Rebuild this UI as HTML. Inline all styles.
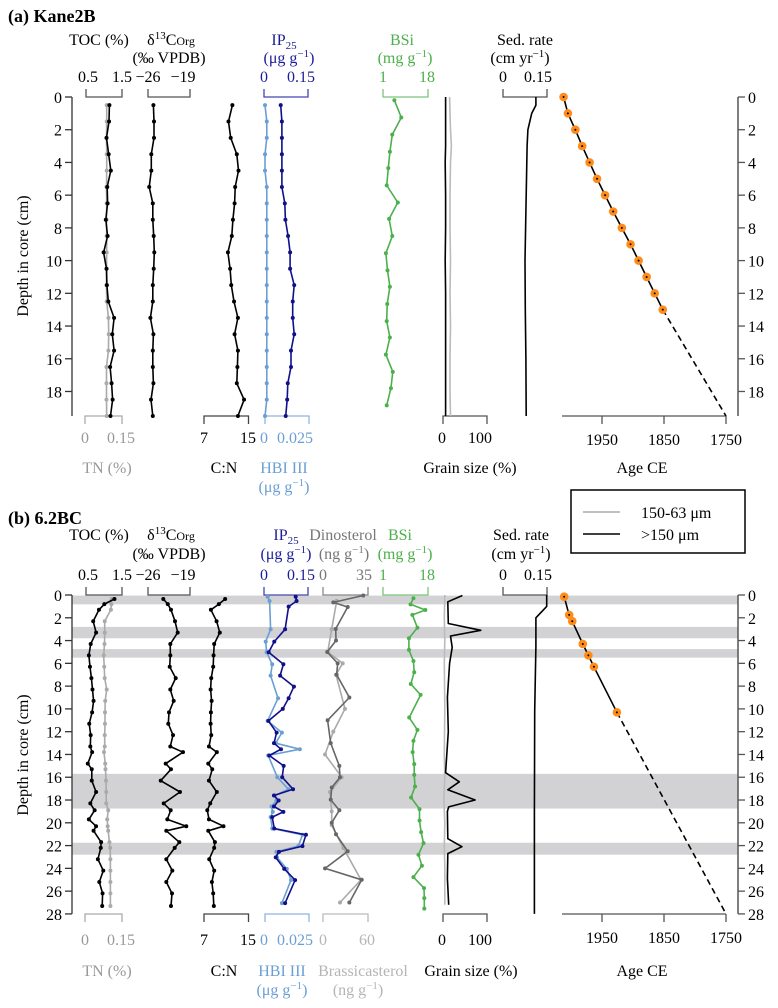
<!DOCTYPE html>
<html><head><meta charset="utf-8"><style>
html,body{margin:0;padding:0;background:#fff}
svg{display:block;font-family:"Liberation Serif",serif}
</style></head><body>
<svg id="fig" width="778" height="1008" viewBox="0 0 778 1008">
<g id="bands"></g>
<g id="axes"></g>
<g id="marks"></g>
<g id="labels" font-size="16" fill="#000">
  <text x="8" y="22" font-weight="bold" font-size="18">(a) Kane2B</text>
  <text x="99" y="45" text-anchor="middle">TOC (%)</text>
  <text x="171" y="45" text-anchor="middle">δ<tspan font-size="11" dy="-6">13</tspan><tspan dy="6">C</tspan><tspan font-size="12">Org</tspan></text>
  <text x="169" y="63" text-anchor="middle">(‰ VPDB)</text>
  <text x="88" y="82" text-anchor="middle">0.5</text>
  <text x="122" y="82" text-anchor="middle">1.5</text>
  <text x="148" y="82" text-anchor="middle">−26</text>
  <text x="183" y="82" text-anchor="middle">−19</text>
  <g fill="#1c1c9a">
  <text x="284" y="45" text-anchor="middle">IP<tspan font-size="11" dy="4">25</tspan></text>
  <text x="289" y="63" text-anchor="middle">(μg g<tspan font-size="11" dy="-6">−1</tspan><tspan dy="6">)</tspan></text>
  <text x="264" y="82" text-anchor="middle">0</text>
  <text x="301" y="82" text-anchor="middle">0.15</text>
  </g>
  <g fill="#4cb04c">
  <text x="402" y="45" text-anchor="middle">BSi</text>
  <text x="405" y="63" text-anchor="middle">(mg g<tspan font-size="11" dy="-6">−1</tspan><tspan dy="6">)</tspan></text>
  <text x="383" y="82" text-anchor="middle">1</text>
  <text x="427" y="82" text-anchor="middle">18</text>
  </g>
  <text x="525" y="45" text-anchor="middle">Sed. rate</text>
  <text x="520" y="63" text-anchor="middle">(cm yr<tspan font-size="11" dy="-6">−1</tspan><tspan dy="6">)</tspan></text>
  <text x="503" y="82" text-anchor="middle">0</text>
  <text x="538" y="82" text-anchor="middle">0.15</text>
  <text transform="translate(28,256) rotate(-90)" text-anchor="middle">Depth in core (cm)</text>
  <!-- bottom a -->
  <g fill="#999"><text x="85" y="443" text-anchor="middle">0</text>
  <text x="121" y="443" text-anchor="middle">0.15</text>
  <text x="107" y="473" text-anchor="middle">TN (%)</text></g>
  <text x="204" y="443" text-anchor="middle">7</text>
  <text x="248" y="443" text-anchor="middle">15</text>
  <text x="224" y="473" text-anchor="middle">C:N</text>
  <g fill="#6a9fd4"><text x="264" y="443" text-anchor="middle">0</text>
  <text x="295" y="443" text-anchor="middle">0.025</text>
  <text x="284" y="473" text-anchor="middle">HBI III</text>
  <text x="284" y="492" text-anchor="middle">(μg g<tspan font-size="11" dy="-6">−1</tspan><tspan dy="6">)</tspan></text></g>
  <text x="442" y="443" text-anchor="middle">0</text>
  <text x="480" y="443" text-anchor="middle">100</text>
  <text x="470" y="473" text-anchor="middle">Grain size (%)</text>
  <text x="642" y="473" text-anchor="middle">Age CE</text>
  <!-- legend -->
  <g>
  <rect x="571" y="490" width="174" height="63" fill="#fff" stroke="#000" stroke-width="1.5"/>
  <line x1="583" y1="512" x2="620" y2="512" stroke="#aaa" stroke-width="1.5"/>
  <text x="641" y="518">150-63 μm</text>
  <line x1="583" y1="534" x2="620" y2="534" stroke="#000" stroke-width="1.5"/>
  <text x="641" y="540">&gt;150 μm</text>
  </g>
  <!-- panel b header -->
  <text x="8" y="524" font-weight="bold" font-size="18">(b) 6.2BC</text>
  <text x="99" y="540" text-anchor="middle">TOC (%)</text>
  <text x="171" y="540" text-anchor="middle">δ<tspan font-size="11" dy="-6">13</tspan><tspan dy="6">C</tspan><tspan font-size="12">Org</tspan></text>
  <text x="169" y="559" text-anchor="middle">(‰ VPDB)</text>
  <text x="88" y="580" text-anchor="middle">0.5</text>
  <text x="122" y="580" text-anchor="middle">1.5</text>
  <text x="148" y="580" text-anchor="middle">−26</text>
  <text x="183" y="580" text-anchor="middle">−19</text>
  <g fill="#1c1c9a">
  <text x="286" y="540" text-anchor="middle">IP<tspan font-size="11" dy="4">25</tspan></text>
  <text x="286" y="559" text-anchor="middle">(μg g<tspan font-size="11" dy="-6">−1</tspan><tspan dy="6">)</tspan></text>
  <text x="264" y="580" text-anchor="middle">0</text>
  <text x="301" y="580" text-anchor="middle">0.15</text></g>
  <g fill="#777">
  <text x="343" y="540" text-anchor="middle">Dinosterol</text>
  <text x="344" y="559" text-anchor="middle">(ng g<tspan font-size="11" dy="-6">−1</tspan><tspan dy="6">)</tspan></text>
  <text x="323" y="580" text-anchor="middle">0</text>
  <text x="364" y="580" text-anchor="middle">35</text></g>
  <g fill="#4cb04c">
  <text x="400" y="540" text-anchor="middle">BSi</text>
  <text x="405" y="559" text-anchor="middle">(mg g<tspan font-size="11" dy="-6">−1</tspan><tspan dy="6">)</tspan></text>
  <text x="383" y="580" text-anchor="middle">1</text>
  <text x="427" y="580" text-anchor="middle">18</text></g>
  <text x="521" y="540" text-anchor="middle">Sed. rate</text>
  <text x="521" y="559" text-anchor="middle">(cm yr<tspan font-size="11" dy="-6">−1</tspan><tspan dy="6">)</tspan></text>
  <text x="503" y="580" text-anchor="middle">0</text>
  <text x="538" y="580" text-anchor="middle">0.15</text>
  <text transform="translate(28,755) rotate(-90)" text-anchor="middle">Depth in core (cm)</text>
  <!-- bottom b -->
  <g fill="#999"><text x="85" y="945" text-anchor="middle">0</text>
  <text x="121" y="945" text-anchor="middle">0.15</text>
  <text x="107" y="976" text-anchor="middle">TN (%)</text></g>
  <text x="204" y="945" text-anchor="middle">7</text>
  <text x="248" y="945" text-anchor="middle">15</text>
  <text x="224" y="976" text-anchor="middle">C:N</text>
  <g fill="#6a9fd4"><text x="264" y="945" text-anchor="middle">0</text>
  <text x="295" y="945" text-anchor="middle">0.025</text>
  <text x="282" y="976" text-anchor="middle">HBI III</text>
  <text x="282" y="995" text-anchor="middle">(μg g<tspan font-size="11" dy="-6">−1</tspan><tspan dy="6">)</tspan></text></g>
  <g fill="#b5b5b5"><text x="323" y="945" text-anchor="middle">0</text>
  <text x="367" y="945" text-anchor="middle">60</text>
  <text x="363" y="976" text-anchor="middle">Brassicasterol</text>
  <text x="358" y="995" text-anchor="middle">(ng g<tspan font-size="11" dy="-6">−1</tspan><tspan dy="6">)</tspan></text></g>
  <text x="442" y="945" text-anchor="middle">0</text>
  <text x="480" y="945" text-anchor="middle">100</text>
  <text x="471" y="976" text-anchor="middle">Grain size (%)</text>
  <text x="642" y="976" text-anchor="middle">Age CE</text>
</g>
</svg>
<script>
// ---------- Panel (a) Kane2B data ----------
const depthA = [0.5,1.5,2.5,3.5,4.5,5.5,6.5,7.5,8.5,9.5,10.5,11.5,12.5,13.5,14.5,15.5,16.5,17.5,18.5,19.5];
const tocA = [1.15,1.14,1.07,1.13,1.19,1.09,1.1,1.05,1.1,0.99,1.07,1.08,1.12,1.28,1.23,1.28,1.17,1.21,1.24,1.18];
const tnA = [0.088,0.088,0.087,0.088,0.088,0.087,0.088,0.087,0.088,0.088,0.087,0.087,0.088,0.095,0.096,0.095,0.087,0.087,0.087,0.088];
const d13cA = [-25.1,-25,-25,-25.45,-25.45,-25.8,-25.2,-25.2,-25.05,-24.95,-25.05,-25.2,-25.2,-25.6,-25.1,-25.2,-25.2,-25.1,-25.5,-25.2];
const cnA = [12.1,11.4,11.8,12.9,13.2,12.6,12.5,12.2,12.0,11.3,11.7,11.9,12.4,13.1,12.5,13.1,13.0,12.9,14.2,13.1];
const ip25A = [0.057,0.061,0.061,0.061,0.061,0.061,0.071,0.073,0.082,0.089,0.089,0.103,0.098,0.098,0.103,0.092,0.092,0.081,0.079,0.074];
const hbiA = [0.0,0.001,0.001,0.0,0.0,0.001,0.001,0.001,0.001,0.001,0.001,0.001,0.001,0.001,0.001,0.001,0.001,0.001,0.001,0.0];
const bsiDepthA = [0.2,1.25,2.3,3.35,4.35,5.4,6.45,7.45,8.5,9.55,10.6,11.6,12.65,13.7,14.7,15.75,16.8,17.8,18.85];
const bsiA = [5.3,7.9,4.5,3.6,3.0,2.4,6.6,3.3,4.5,2.1,2.7,3.6,2.6,2.4,3.6,2.1,4.7,4.0,2.4];
const grainDepthA = [0,1,2,3,4,6,8,10,12,14,16,18,19.5];
const grainFineA = [15,16,17,19,17,16,16,17,16,17,16,16,17];
const grainCoarseA = [6,6,6,6,5,6,6,5,6,6,6,6,6];
const sedDepthA = [0,0.5,1,2,3,5,8,10,13,16,19.5];
const sedA = [0.112,0.112,0.098,0.085,0.082,0.08,0.077,0.075,0.076,0.078,0.079];
const ageDepthA = [0,1,2,3,4,5,6,7,8,9,10,11,12,13];
const ageA = [2012,2005,1993,1982,1970,1958,1945,1932,1918,1904,1891,1878,1865,1852];
const ageExtDepthA = [13,19.5];
const ageExtA = [1852,1750];

// ---------- Panel (b) 6.2BC data ----------
const depthB = [0.35,0.8,1.3,2.3,3.3,4.3,5.3,6.3,7.3,8.3,9.3,10.3,11.3,12.3,13.3,13.8,14.8,15.3,16.3,17.3,18.3,18.9,19.7,20.3,20.7,21.7,22.2,23.2,24.2,25.2,26.2,27.3];
const tocB = [1.29,1.01,0.86,0.70,0.78,0.63,0.58,0.61,0.65,0.68,0.71,0.67,0.59,0.63,0.62,0.67,0.55,0.66,0.66,0.78,0.62,0.74,0.58,0.78,0.71,0.92,0.91,0.83,0.98,0.87,0.96,0.95];
const tnB = [0.108,0.107,0.105,0.08,0.08,0.079,0.076,0.078,0.08,0.088,0.082,0.081,0.081,0.08,0.08,0.077,0.082,0.083,0.085,0.086,0.086,0.094,0.09,0.092,0.094,0.099,0.102,0.103,0.103,0.103,0.103,0.103];
const d13cB = [-23.45,-22.7,-22.17,-21.5,-21.05,-22.28,-22.28,-22.38,-21.38,-22.28,-21.72,-22.5,-22.62,-21.83,-22.28,-20.17,-23.05,-22.17,-23.88,-20.67,-23.38,-22.22,-22.78,-19.62,-22.95,-20.78,-21.55,-22.95,-21.95,-22.95,-22,-22.17];
const cnB = [10.8,9.67,8.24,9.26,9.84,8.83,8.72,8.65,8.3,8.19,8.37,8.24,8.19,8.3,7.89,9.31,7.77,8.48,7.89,9.31,8.12,7.59,7.89,10.5,7.77,8.96,8.83,7.94,8.83,8.42,8.65,8.77];
const ipDepthB = [0.15,0.53,1.02,3.01,4.09,5.03,6.08,7.08,8.04,9.06,10,11.05,12.08,13.01,13.54,14.09,15.0,16.0,17.05,17.6,18.04,18.57,19.04,19.5,20.5,21.05,22.05,22.55,23.04,24.04,25.03,27.05];
const ip25B = [0.108,0.111,0.084,0.072,0.035,0.016,0.066,0.055,0.102,0.084,0.064,0.015,0.043,0.034,0.058,0.018,0.067,0.062,0.099,0.034,0.05,0.034,0.066,0.028,0.035,0.143,0.131,0.051,0.04,0.069,0.106,0.072];
const hbiDepthB = [0.15,0.53,3.01,4.09,5.03,6.08,7.08,9.06,11.05,12.08,13.01,13.54,14.09,16.0,17.05,17.6,18.04,18.57,19.04,19.5,20.5,21.05,22.05,22.55,23.04,24.04,25.03,27.05];
const hbiB = [0.0015,0.0026,0.0032,0.0004,0.0009,0.0041,0.0032,0.0074,0.0015,0.0096,0.0061,0.0198,0.0018,0.0070,0.0133,0.0056,0.0065,0.0037,0.0044,0.0032,0.0041,0.0213,0.0189,0.0065,0.0068,0.0124,0.0148,0.0096];
const dinoDepthB = [0.04,0.65,1.05,2.98,4.0,5.0,6.0,7.0,9.0,11.0,13.0,15.0,16.0,16.9,17.97,18.9,20.0,21.0,22.5,24.0,25.0,27.0];
const dinoB = [31.3,8.0,19.2,9.9,10.1,3.3,11.4,10.6,20.5,3.6,6.0,12.7,13.2,6.8,6.0,12.7,6.8,10.1,19.2,1.6,30.1,20.5];
const brasDepthB = [0.5,3.0,5.0,6.0,7.0,10.0,12.0,14.0,16.0,17.3,19.0,20.2,22.2,25.0,27.0];
const brasB = [18.3,11.6,6.3,26.3,17.3,29.3,13.7,2.7,24.9,9.3,11.6,11.6,27.1,50.7,22.7];
const bsiDepthB = [0.29,0.82,1.32,1.75,2.87,3.8,4.82,5.79,6.78,7.81,8.77,10.76,11.84,12.81,13.8,14.85,15.79,16.81,17.78,18.8,19.8,20.82,21.78,22.8,23.77,24.77,25.73,26.61,27.54];
const bsiB = [12.5,11.4,17,12.1,14,10.8,10.8,12.5,12.8,11.5,15.2,10.9,14,12.5,12.2,12.8,12.8,13.1,11.6,14.8,14.8,15.4,16.3,14.4,15.7,12.5,16.5,16.6,16.6];
const grainDepthB = [0.04,0.6,2.5,3.1,3.6,4.6,6,9,12,15.6,16.4,17.1,18.0,18.6,19.0,21.4,22.1,22.7,24.9,27.2];
const grainCoarseB = [44,11,12,86,17,21,15,10,12,6,37,11,73,13,10,11,43,11,10,13];
const grainFineDepthB = [0,2,4,6,10,14,16,18,20,22,24,27.2];
const grainFineB = [4,3,4,3,4,3,4,2,4,3,4,4];
const sedDepthB = [0,1,2,4.5,10.2,19,28];
const sedB = [0.149,0.149,0.112,0.112,0.108,0.107,0.107];
const ageDepthB = [0.15,1.75,2.3,4.3,5.3,6.3,10.3];
const ageB = [2011,2003,1998,1981,1972,1963,1926];
const ageExtDepthB = [10.3,28];
const ageExtB = [1926,1750];
const bandTopB = [0.05,2.8,4.75,15.7,21.75];
const bandBotB = [0.82,3.8,5.5,18.75,22.8];

// ---------- scales ----------
const NS = 'http://www.w3.org/2000/svg';
const yA = d => 97 + d * 16.36;
const yB = d => 595 + d * 11.39;
const lin = (v0, x0, v1, x1) => v => x0 + (v - v0) * (x1 - x0) / (v1 - v0);
const xTOC = lin(0.5, 86, 1.5, 122);
const xTN = lin(0, 85, 0.15, 122);
const xD13 = lin(-26, 148, -19, 190);
const xCN = lin(7, 204, 15, 248.5);
const xIP = lin(0, 264, 0.15, 308);
const xHBI = lin(0, 265, 0.025, 309);
const xDino = lin(0, 323, 35, 368);
const xBras = lin(0, 323, 60, 368);
const xBSi = lin(1, 383, 18, 428);
const xGrain = lin(0, 443, 100, 487);
const xSed = lin(0, 503, 0.15, 547);
const xAge = lin(1950, 602, 1750, 726);

const gBands = document.getElementById('bands');
const gAxes = document.getElementById('axes');
const gMarks = document.getElementById('marks');

function mk(tag, attrs, parent) {
  const el = document.createElementNS(NS, tag);
  for (const k in attrs) el.setAttribute(k, attrs[k]);
  parent.appendChild(el);
  return el;
}

function series(name, depths, vals, xf, yf, color, pts, dash) {
  const d = depths.map((dp, i) => (i ? 'L' : 'M') + xf(vals[i]).toFixed(1) + ',' + yf(dp).toFixed(1)).join('');
  const p = mk('path', {d: d, fill: 'none', stroke: color, 'stroke-width': 1.6, 'stroke-linejoin': 'round'}, gMarks);
  if (dash) p.setAttribute('stroke-dasharray', '6,4');
  
  
  if (pts) {
    depths.forEach((dp, i) => {
      const c = mk('circle', {cx: xf(vals[i]), cy: yf(dp), r: 2, fill: color}, gMarks);
      
      
    });
  }
}

function bracket(name, x0, x1, y, dir, color) {
  const d = 'M' + x0 + ',' + (y + dir * 8) + 'V' + y + 'H' + x1 + 'V' + (y + dir * 8);
  const p = mk('path', {d: d, fill: 'none', stroke: color, 'stroke-width': 1.3}, gAxes);
  
  
}

function depthAxes(prefix, yf, maxD, maxTick, rightX, leftX) {
  const la = mk('line', {x1: leftX, y1: yf(0), x2: leftX, y2: yf(maxD), stroke: '#333', 'stroke-width': 1.3}, gAxes);
  
  
  const ra = mk('line', {x1: rightX, y1: yf(0), x2: rightX, y2: yf(maxD), stroke: '#555', 'stroke-width': 1.5}, gAxes);
  
  
  for (let t = 0; t <= maxTick; t += 2) {
    mk('line', {x1: leftX - 7, y1: yf(t), x2: leftX, y2: yf(t), stroke: '#333', 'stroke-width': 1.3}, gAxes);
    mk('line', {x1: rightX, y1: yf(t), x2: rightX + 7, y2: yf(t), stroke: '#555', 'stroke-width': 1.3}, gAxes);
    const tl = mk('text', {x: leftX - 10, y: yf(t) + 6, 'text-anchor': 'end', 'font-size': 16}, gAxes);
    tl.textContent = t;
    
    
    const tr = mk('text', {x: rightX + 10, y: yf(t) + 6, 'font-size': 16}, gAxes);
    tr.textContent = t;
    
    
  }
}

function ageAxis(prefix, y) {
  const a = mk('line', {x1: 562, y1: y, x2: 726, y2: y, stroke: '#555', 'stroke-width': 1.3}, gAxes);
  
  
  [1950, 1850, 1750].forEach(yr => {
    mk('line', {x1: xAge(yr), y1: y, x2: xAge(yr), y2: y + 8, stroke: '#555', 'stroke-width': 1.3}, gAxes);
    const t = mk('text', {x: xAge(yr), y: y + 29, 'text-anchor': 'middle', 'font-size': 16}, gAxes);
    t.textContent = yr;
    
    
  });
}

function ageDots(name, depths, ages, yf) {
  depths.forEach((dp, i) => {
    const c = mk('circle', {cx: xAge(ages[i]), cy: yf(dp), r: 4.3, fill: '#ff8c1a'}, gMarks);
    
    
    mk('circle', {cx: xAge(ages[i]), cy: yf(dp), r: 1, fill: '#000'}, gMarks);
  });
}

// gray bands panel b
bandTopB.forEach((t, i) => {
  const r = mk('rect', {x: 72, y: yB(t), width: 666, height: yB(bandBotB[i]) - yB(t), fill: '#d2d2d4'}, gBands);
  
  
});

// axes
depthAxes('panel-a', yA, 19.5, 18, 738, 72);
depthAxes('panel-b', yB, 28, 28, 738, 72);
ageAxis('panel-a', 416);
ageAxis('panel-b', 914);

// brackets panel a
bracket('toc-bracket-a', 86, 122, 97, -1, '#555');
bracket('d13c-bracket-a', 148, 190, 97, -1, '#555');
bracket('ip25-bracket-a', 264, 308, 97, -1, '#4444b0');
bracket('bsi-bracket-a', 383, 428, 97, -1, '#7cc47c');
bracket('sed-bracket-a', 503, 547, 97, -1, '#555');
bracket('tn-bracket-a', 85, 122, 416, 1, '#aaa');
bracket('cn-bracket-a', 204, 248.5, 416, 1, '#444');
bracket('hbi-bracket-a', 265, 309, 416, 1, '#8fb5df');
bracket('grain-bracket-a', 443, 487, 416, 1, '#555');
// brackets panel b
bracket('toc-bracket-b', 86, 122, 595, -1, '#555');
bracket('d13c-bracket-b', 148, 190, 595, -1, '#555');
bracket('ip25-bracket-b', 264, 308, 595, -1, '#4444b0');
bracket('dino-bracket-b', 323, 368, 595, -1, '#888');
bracket('bsi-bracket-b', 383, 428, 595, -1, '#7cc47c');
bracket('sed-bracket-b', 503, 547, 595, -1, '#555');
bracket('tn-bracket-b', 85, 122, 914, 1, '#aaa');
bracket('cn-bracket-b', 204, 248.5, 914, 1, '#444');
bracket('hbi-bracket-b', 265, 309, 914, 1, '#8fb5df');
bracket('brassica-bracket-b', 323, 368, 914, 1, '#bbb');
bracket('grain-bracket-b', 443, 487, 914, 1, '#555');

// panel a series
series('tn-a', depthA, tnA, xTN, yA, '#aaa', true);
series('toc-a', depthA, tocA, xTOC, yA, '#000', true);
series('d13c-a', depthA, d13cA, xD13, yA, '#000', true);
series('cn-a', depthA, cnA, xCN, yA, '#000', true);
series('hbi-a', depthA, hbiA, xHBI, yA, '#6a9fd4', true);
series('ip25-a', depthA, ip25A, xIP, yA, '#10108a', true);
series('bsi-a', bsiDepthA, bsiA, xBSi, yA, '#4cb04c', true);
series('grain-fine-a', grainDepthA, grainFineA, xGrain, yA, '#bbb', false);
series('grain-coarse-a', grainDepthA, grainCoarseA, xGrain, yA, '#000', false);
series('sed-rate-a', sedDepthA, sedA, xSed, yA, '#000', false);
series('age-model-a', ageDepthA, ageA, xAge, yA, '#000', false);
series('age-extrapolation-a', ageExtDepthA, ageExtA, xAge, yA, '#000', false, true);
ageDots('age-tiepoint-a', ageDepthA, ageA, yA);

// panel b series
series('tn-b', depthB, tnB, xTN, yB, '#aaa', true);
series('toc-b', depthB, tocB, xTOC, yB, '#000', true);
series('d13c-b', depthB, d13cB, xD13, yB, '#000', true);
series('cn-b', depthB, cnB, xCN, yB, '#000', true);
series('hbi-b', hbiDepthB, hbiB, xHBI, yB, '#6a9fd4', true);
series('ip25-b', ipDepthB, ip25B, xIP, yB, '#10108a', true);
series('brassica-b', brasDepthB, brasB, xBras, yB, '#aaa', true);
series('dino-b', dinoDepthB, dinoB, xDino, yB, '#666', true);
series('bsi-b', bsiDepthB, bsiB, xBSi, yB, '#4cb04c', true);
series('grain-fine-b', grainFineDepthB, grainFineB, xGrain, yB, '#bbb', false);
series('grain-coarse-b', grainDepthB, grainCoarseB, xGrain, yB, '#000', false);
series('sed-rate-b', sedDepthB, sedB, xSed, yB, '#000', false);
series('age-model-b', ageDepthB, ageB, xAge, yB, '#000', false);
series('age-extrapolation-b', ageExtDepthB, ageExtB, xAge, yB, '#000', false, true);
ageDots('age-tiepoint-b', ageDepthB, ageB, yB);
</script>
</body></html>
